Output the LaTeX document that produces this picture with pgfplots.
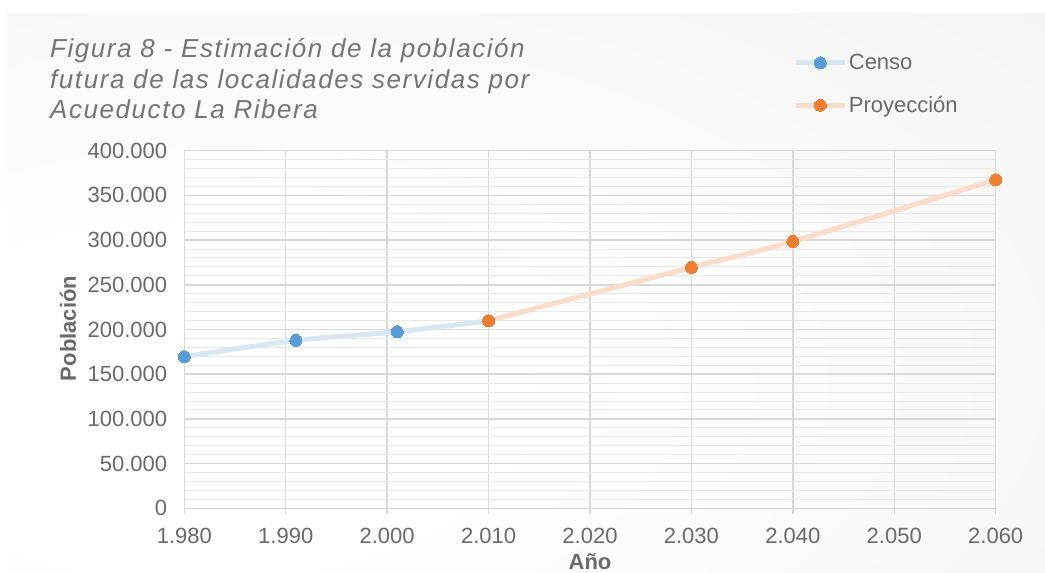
\documentclass[border=0pt]{standalone}
\usepackage{pgfplots}
\pgfplotsset{compat=1.18}
\usepackage{fontspec}
\setmainfont{Liberation Sans}
\newfontfamily\titlefont[LetterSpace=6]{Liberation Sans}
\definecolor{censoM}{HTML}{5B9BD5}
\definecolor{censoL}{HTML}{D9E6F3}
\definecolor{proyM}{HTML}{ED7D31}
\definecolor{proyL}{HTML}{F9DCCA}
\definecolor{txt}{HTML}{6A6A6A}
\definecolor{ttl}{HTML}{757575}
\definecolor{gridc}{HTML}{D9D9D9}
\definecolor{mgrid}{HTML}{E9E9E9}
\definecolor{bggray}{HTML}{EFEFEF}
\pgfdeclareradialshading{bgshade}{\pgfpoint{-20bp}{-12bp}}{color(0bp)=(white); color(15bp)=(white); color(60bp)=(bggray); color(80bp)=(bggray)}
\begin{document}
\begin{tikzpicture}
\useasboundingbox (0pt,0pt) rectangle (1045pt,573pt);
\fill[white] (0pt,0pt) rectangle (1045pt,573pt);
\shade[shading=bgshade] (7pt,0pt) rectangle (1045pt,559pt);
\begin{axis}[
  at={(184.3pt,64.7pt)}, anchor=south west,
  scale only axis, width=811.4pt, height=357.6pt,
  xmin=1980, xmax=2060, ymin=0, ymax=400000,
  xtick={1980,1990,...,2060}, ytick={0,50000,...,400000},
  xticklabels={1.980,1.990,2.000,2.010,2.020,2.030,2.040,2.050,2.060},
  yticklabels={0,50.000,100.000,150.000,200.000,250.000,300.000,350.000,400.000},
  minor y tick num=4,
  grid=both,
  major grid style={gridc, line width=1.5pt},
  minor grid style={mgrid, line width=1pt},
  axis line style={gridc, line width=1.5pt},
  tick align=outside,
  xtick pos=lower, ytick pos=left,
  x tick style={gridc, line width=1.5pt},
  major tick length=6pt,
  y tick style={draw=none},
  scaled ticks=false,
  tick label style={font=\fontsize{22}{22}\selectfont, text=txt},
  xticklabel style={inner sep=0pt, anchor=north, yshift=-14pt},
  yticklabel style={inner sep=0pt, anchor=east, xshift=-11pt},
  legend style={at={(axis description cs:0.751,1.275)}, anchor=north west, draw=none, fill=none,
    font=\fontsize{22}{22}\selectfont, text=txt, row sep=21pt, inner sep=0pt},
  legend cell align=left,
  legend image code/.code={\draw[mark repeat=2,mark phase=2] plot coordinates {(0pt,0pt) (24pt,0pt) (48pt,0pt)};},
]
\addplot[smooth, color=censoL, line width=5pt, mark=*, mark size=6pt,
  mark options={fill=censoM, draw=censoM, line width=0pt}]
  coordinates {(1980,169600) (1991,187800) (2001,197500) (2010,209800)};
\addlegendentry{Censo}
\addplot[smooth, color=proyL, line width=5pt, mark=*, mark size=6pt,
  mark options={fill=proyM, draw=proyM, line width=0pt}]
  coordinates {(2010,209800) (2030,269500) (2040,298500) (2060,367500)};
\addlegendentry{Proyección}
\end{axis}
\node[anchor=base west, inner sep=0pt, text=ttl, font=\titlefont\itshape\fontsize{26}{26}\selectfont] at (50pt,515pt) {Figura 8 - Estimación de la población};
\node[anchor=base west, inner sep=0pt, text=ttl, font=\titlefont\itshape\fontsize{26}{26}\selectfont] at (50pt,484pt) {futura de las localidades servidas por};
\node[anchor=base west, inner sep=0pt, text=ttl, font=\titlefont\itshape\fontsize{26}{26}\selectfont] at (50pt,454pt) {Acueducto La Ribera};
\node[rotate=90, inner sep=0pt, text=txt, font=\bfseries\fontsize{22}{22}\selectfont] at (68pt,244.5pt) {Población};
\node[anchor=base, inner sep=0pt, text=txt, font=\bfseries\fontsize{22}{22}\selectfont] at (590pt,3pt) {Año};
\end{tikzpicture}
\end{document}
